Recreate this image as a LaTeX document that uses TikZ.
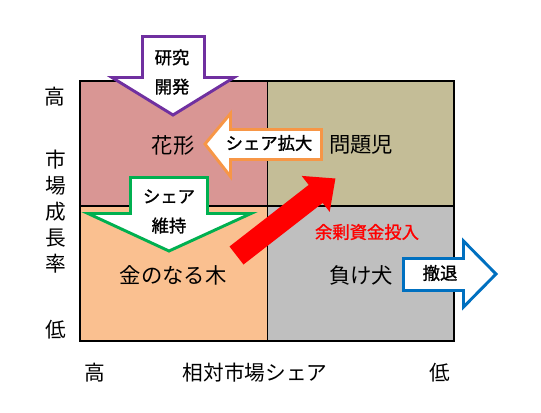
\documentclass[tikz,border=0pt]{standalone}
\usepackage{fontspec}
\setmainfont{Noto Sans CJK JP}
\newfontfamily\tagfont[FakeBold=1.2]{Noto Sans CJK JP}
\definecolor{qpink}{RGB}{217,150,148}
\definecolor{qkhaki}{RGB}{196,189,151}
\definecolor{qpeach}{RGB}{250,192,144}
\definecolor{qgray}{RGB}{191,191,191}
\definecolor{apurple}{RGB}{112,48,160}
\definecolor{aorange}{RGB}{247,150,70}
\definecolor{agreen}{RGB}{0,176,80}
\definecolor{ablue}{RGB}{0,112,192}
\begin{document}
\begin{tikzpicture}[x=0.75pt,y=-0.75pt,line join=miter,
  quad/.style={font=\fontsize{16}{18}\selectfont,inner sep=0pt},
  axis/.style={font=\fontsize{15.5}{19.5}\selectfont,inner sep=0pt,align=center},
  tag/.style={font=\tagfont\fontsize{13}{22}\selectfont,inner sep=0pt,align=center},
  blk/.style={fill=white,line width=2.2pt}]
\useasboundingbox (0,0) rectangle (541,412);
% quadrants
\filldraw[fill=qpink,line width=1pt](80,81) rectangle (267.5,206);
\filldraw[fill=qkhaki,line width=1pt](267.5,81) rectangle (454,206);
\filldraw[fill=qpeach,line width=1pt](80,206) rectangle (267.5,341);
\filldraw[fill=qgray,line width=1pt](267.5,206) rectangle (454,341);
% block arrows
\filldraw[blk,draw=apurple](142.5,36.5)--(204.5,36.5)--(204.5,77.5)--(234,77.5)--(173,115)--(112,77.5)--(142.5,77.5)--cycle;
\filldraw[blk,draw=aorange](321.5,129.5)--(230.5,129.5)--(230.5,113.5)--(205,144)--(230.5,176.5)--(230.5,159.5)--(321.5,159.5)--cycle;
\filldraw[blk,draw=agreen](130.5,177.5)--(207.5,177.5)--(207.5,213.5)--(251,213.5)--(169,251)--(88,213.5)--(130.5,213.5)--cycle;
\filldraw[blk,draw=ablue](403.5,258.5)--(463.5,258.5)--(463.5,241)--(496,274)--(463.5,307)--(463.5,290.5)--(403.5,290.5)--cycle;
\fill[red](229.5,246.5)--(308.7,184.9)--(301.7,175.9)--(335.4,178.5)--(329.7,211.9)--(322.7,202.9)--(243.5,264.5)--cycle;
% quadrant names
\node[quad] (star) at (173,145) {花形};
\node[quad] (problem) at (361,145) {問題児};
\node[quad] (cash) at (173,275) {金のなる木};
\node[quad] (dog) at (361,275) {負け犬};
% arrow labels
\node[tag] (rnd) at (172,72) {研究\\開発};
\node[tag] (grow) at (269,143) {シェア拡大};
\node[tag] (keep) at (169,211.5) {シェア\\維持};
\node[tag] (quit) at (440,273) {撤退};
\node[tag,text=red] (invest) at (367,232) {余剰資金投入};
% axes
\node[axis] (yhigh) at (55,97) {高};
\node[axis] (ytitle) at (56,211.5) {市\\場\\成\\長\\率};
\node[axis] (ylow) at (56,330) {低};
\node[axis] (xhigh) at (95,373) {高};
\node[axis] (xtitle) at (255,373) {相対市場シェア};
\node[axis] (xlow) at (440,373) {低};
\end{tikzpicture}
\end{document}
